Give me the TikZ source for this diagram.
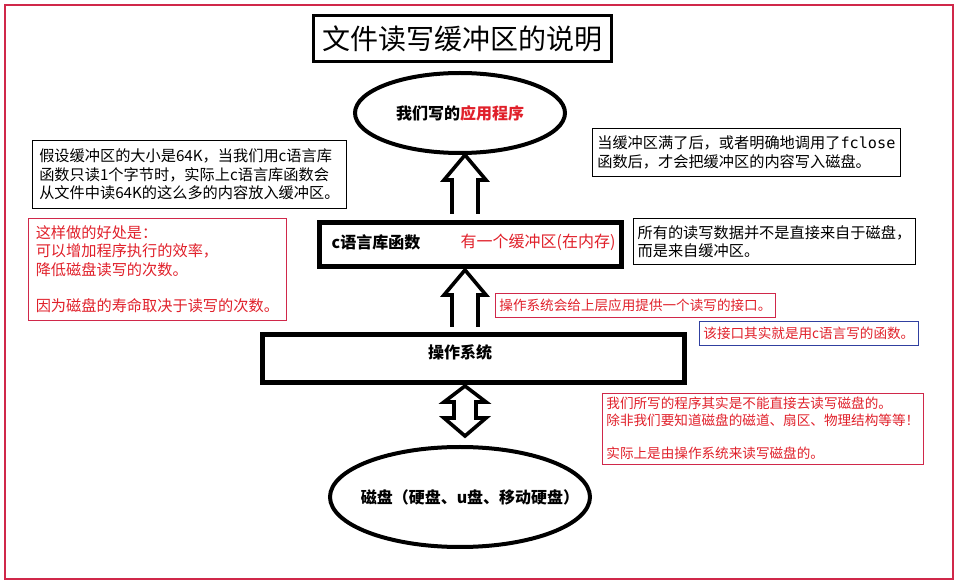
\documentclass[tikz,border=0pt]{standalone}
\usepackage{fontspec}
\setmainfont{Noto Sans CJK SC}
\setmonofont{DejaVu Sans Mono}
\definecolor{MyRed}{HTML}{E0202A}
\definecolor{MyFrame}{HTML}{D0284A}
\definecolor{MyBlue}{HTML}{3040A0}
\usetikzlibrary{shapes.geometric, calc}
\tikzset{
	note/.style={draw, thin, anchor=north west, align=left, inner sep=2pt, font=\fontsize{7.6}{9.2}\selectfont},
	rednote/.style={note, draw=MyFrame, text=MyRed},
	bigbox/.style={draw, line width=2.5pt, anchor=north west},
	hollow/.style={draw, line width=1.8pt, fill=white, line join=miter},
	boldlabel/.style={font=\bfseries\fontsize{8}{10}\selectfont}
}
\begin{document}
\begin{tikzpicture}[x=0.5pt, y=-0.5pt]
		\useasboundingbox (0,0) rectangle (960,588);
		\draw[MyFrame, line width=0.6pt] (5,5) rectangle (953,579);
		
		\node[draw, line width=1.5pt, minimum width=149pt, minimum height=23pt, font=\fontsize{14}{16}\selectfont] (title) at (462,39) {文件读写缓冲区的说明};
		
		\draw[line width=2pt] (460,113) ellipse (105 and 40);
		\node[boldlabel] (app) at (460,113) {我们写的\textcolor{MyRed}{应用程序}};
		
		\node[bigbox, minimum width=151pt, minimum height=22pt] (lib) at (317,220) {};
		\node[boldlabel] (libname) at (376,242) {c语言库函数};
		\node[text=MyRed, font=\fontsize{8}{10}\selectfont] (libbuf) at (538,242) {有一个缓冲区(在内存)};
		
		\node[bigbox, minimum width=211pt, minimum height=24pt] (os) at (260,332) {};
		\node[boldlabel] (osname) at (460,352) {操作系统};
		
		\draw[line width=2pt] (460,497) ellipse (130 and 50);
		\node[boldlabel] (disk) at (470,497) {磁盘（硬盘、u盘、移动硬盘）};
		
		% hollow arrows
		\draw[hollow] (452,214) -- (452,180) -- (444,180) -- (465,155) -- (486,180) -- (478,180) -- (478,214);
		\draw[hollow] (452,327) -- (452,295) -- (444,295) -- (465,270) -- (486,295) -- (478,295) -- (478,327);
		\draw[hollow] (465,386) -- (486,402) -- (476,402) -- (476,418) -- (486,418) -- (465,436) -- (444,418) -- (454,418) -- (454,402) -- (444,402) -- cycle;
		
		% notes
		\node[note, minimum width=157pt, minimum height=34pt] (size) at (32,140) {假设缓冲区的大小是64K，当我们用c语言库\\函数只读1个字节时，实际上c语言库函数会\\从文件中读64K的这么多的内容放入缓冲区。};
		\node[rednote, minimum width=129pt, minimum height=51pt] (gain) at (28,218) {这样做的好处是：\\可以增加程序执行的效率，\\降低磁盘读写的次数。\\[9pt]因为磁盘的寿命取决于读写的次数。};
		\node[note, minimum width=154pt, minimum height=24pt] (flush) at (592,128) {当缓冲区满了后，或者明确地调用了\texttt{fclose}\\函数后，才会把缓冲区的内容写入磁盘。};
		\node[note, minimum width=141pt, minimum height=23pt] (data) at (633,218) {所有的读写数据并不是直接来自于磁盘，\\而是来自缓冲区。};
		\node[rednote, minimum width=140pt, minimum height=12pt, font=\fontsize{6.8}{8}\selectfont] (iface) at (495,293) {操作系统会给上层应用提供一个读写的接口。};
		\node[rednote, draw=MyBlue, minimum width=109pt, minimum height=12pt, font=\fontsize{6.8}{8}\selectfont] (cfunc) at (699,321) {该接口其实就是用c语言写的函数。};
		\node[rednote, minimum width=159pt, minimum height=35pt, font=\fontsize{6.8}{8.5}\selectfont] (direct) at (602,393) {我们所写的程序其实是不能直接去读写磁盘的。\\除非我们要知道磁盘的磁道、扇区、物理结构等等！\\[8pt]实际上是由操作系统来读写磁盘的。};
	\end{tikzpicture}
\end{document}
